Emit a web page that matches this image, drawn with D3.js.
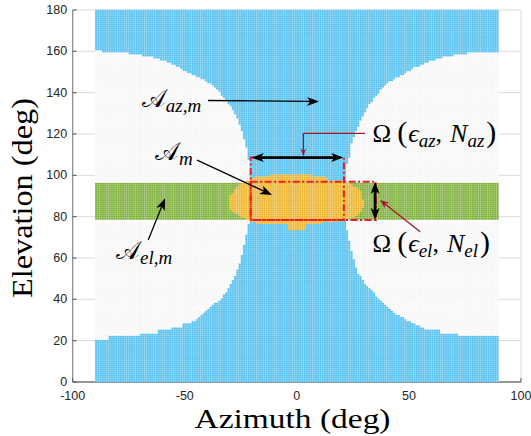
<!DOCTYPE html>
<html><head><meta charset="utf-8">
<script src="https://cdn.jsdelivr.net/npm/d3@7"></script>
<style>
html,body{margin:0;padding:0;background:#fff;}
svg{display:block;}
</style></head><body>
<svg id="chart" width="531" height="436"></svg>
<script>
// ---------------- data ----------------
const azTicks = [-100, -50, 0, 50, 100];
const elTicks = [0, 20, 40, 60, 80, 100, 120, 140, 160, 180];
const gridAz = [-90, 90];          // azimuth extent of the cell grid (1 deg cells)
const gridEl = [0, 180];           // elevation extent
const bandEl = [78.5, 96.5];       // A_el,m band (green)

// white (non-A_az,m) region boundaries, [az, el]
const leftWhiteUpper = [[-90,160.5],[-83,159.5],[-75,159],[-68.5,158],[-63,156.8],[-58,155],[-53,152.5],[-47.7,149.3],[-43,147],[-38.8,144.5],[-35.5,141.5],[-33,138],[-30.5,135],[-28.5,131.6],[-27,128.5],[-25.5,125],[-24.3,121],[-23.3,117],[-22.4,113.5],[-21.8,110.6],[-21.3,105],[-21.3,78]];
const leftWhiteLower = [[-90,20.8],[-83.5,20.8],[-83.5,22.3],[-70,22.3],[-69,23.7],[-62,23.7],[-61.5,25.2],[-56,25.2],[-55.5,26.8],[-51.5,26.8],[-51,28.4],[-47.7,28.5],[-45,30],[-43,31.5],[-40.3,34.8],[-36.5,38],[-33,41.3],[-30.5,45],[-28.5,49.3],[-27,53],[-25.5,57.4],[-24.3,62],[-23.3,67],[-22.5,71],[-21.8,75],[-21.3,78]];
const rightWhiteUpper = [[90,159.5],[80,159.5],[72,158.5],[66.6,157.4],[59.2,155],[51.7,151.7],[44.3,146.9],[40,144],[36.9,140.5],[34,136.5],[31,131.6],[28.5,126.5],[26.5,121],[24.5,115],[23.8,109],[22.5,105],[22.3,97],[22.3,78]];
const rightWhiteLower = [[90,22.3],[72.5,22.3],[72.5,23.9],[63.6,23.9],[63.6,25.5],[57.7,25.5],[54,27.6],[51,29.2],[46.5,31.6],[42.8,34],[39.9,37.3],[36.9,40.5],[33.9,43.7],[31,46.9],[29.4,49.3],[27.5,53],[26,57.4],[24.8,62],[23.8,67],[23,71],[22.3,75],[22.3,78]];

// A_m region (orange)
const orangeOutline = [[-11.5,100.7],[7,100.7],[7,99.8],[11.6,99.8],[14,98],[20,97.2],[24,96],[27,94],[29.4,91.5],[29.6,85],[28,82],[26,80],[22,78.3],[13,77.3],[6,76.2],[4.2,76.2],[4.2,73.6],[-3.5,73.6],[-3.5,76.2],[-14.3,76.2],[-19,77.3],[-21.5,78.3],[-26.2,80.8],[-29,83],[-30,85],[-30,89.6],[-28,92.5],[-25.5,95.3],[-23.3,97],[-18,99.3],[-12,100]];

// red dash-dot boxes: [az0, az1, el0, el1]
const dashedBoxes = [[-20.6, 21.0, 78.4, 108.6], [-20.6, 35.3, 78.4, 96.9]];

// annotation arrows [az1, el1, az2, el2]
const blackDoubleArrows = [[-20.1,108.6,20.7,108.6],[34.9,96.9,34.9,78.4]];
const blackArrows = [[-39.6,136.2,9.9,135.7],[-44.5,107.4,-11.1,90.5],[-66.3,68.7,-58.8,88.9]];
const redElbow = [[30.4,120.3],[2.9,120.3],[2.9,109.2]];
const redArrow = [55.0,72.7,37.1,88.1];

// labels
const labels = [
  {az:-69.2, el:132.9, parts:[{t:'𝒜',s:25},{t:'az,m',s:19,i:true,sub:true}]},
  {az:-63.3, el:107.4, parts:[{t:'𝒜',s:25},{t:'m',s:19,i:true,sub:true}]},
  {az:-80.7, el:59.4,  parts:[{t:'𝒜',s:25},{t:'el,m',s:19,i:true,sub:true}]},
  {az:33.8, el:116.3, parts:[{t:'Ω',s:25},{t:'(',s:30,dx:6},{t:'ϵ',s:26,i:true,dx:1},{t:'az',s:19,i:true,sub:true},{t:',',s:26},{t:'N',s:26,i:true,dx:8},{t:'az',s:19,i:true,sub:true},{t:')',s:30,dx:2}]},
  {az:33.8, el:63.0,  parts:[{t:'Ω',s:25},{t:'(',s:30,dx:6},{t:'ϵ',s:26,i:true,dx:1},{t:'el',s:19,i:true,sub:true},{t:',',s:26},{t:'N',s:26,i:true,dx:8},{t:'el',s:19,i:true,sub:true},{t:')',s:30,dx:2}]}
];
const xLabel = 'Azimuth (deg)';
const yLabel = 'Elevation (deg)';

const colors = {blue:'#4DBEEE', green:'#77AC30', orange:'#EDB120', white:'#FFFFFF'};

// ---------------- drawing ----------------
const svg = d3.select('#chart');
const x = d3.scaleLinear().domain([-100,100]).range([72.7,521]);
const y = d3.scaleLinear().domain([0,180]).range([382,10]);

// grid at ticks
const gGrid = svg.append('g');
gGrid.selectAll('line.gx').data(azTicks).join('line')
  .attr('x1',d=>x(d)).attr('x2',d=>x(d)).attr('y1',y(0)).attr('y2',y(180))
  .attr('stroke','#dcdcdc').attr('stroke-width',1);
gGrid.selectAll('line.gy').data(elTicks).join('line')
  .attr('x1',x(-100)).attr('x2',x(100)).attr('y1',d=>y(d)).attr('y2',d=>y(d))
  .attr('stroke','#dcdcdc').attr('stroke-width',1);

// axes lines + ticks
const gAx = svg.append('g');
gAx.append('line').attr('x1',x(-100)).attr('x2',x(-100)).attr('y1',y(0)).attr('y2',y(180)).attr('stroke','#7a7a7a').attr('stroke-width',1);
gAx.append('line').attr('x1',x(-100)).attr('x2',x(100)).attr('y1',y(0)).attr('y2',y(0)).attr('stroke','#7a7a7a').attr('stroke-width',1.3);
gAx.selectAll('line.ty').data(elTicks).join('line')
  .attr('x1',x(-100)).attr('x2',x(-100)+4).attr('y1',d=>y(d)).attr('y2',d=>y(d)).attr('stroke','#555').attr('stroke-width',1);
gAx.selectAll('line.tx').data(azTicks).join('line')
  .attr('x1',d=>x(d)).attr('x2',d=>x(d)).attr('y1',y(0)).attr('y2',y(0)-4).attr('stroke','#555').attr('stroke-width',1);

// cells
const leftPoly = leftWhiteUpper.concat(leftWhiteLower.slice().reverse());
const rightPoly = rightWhiteUpper.concat(rightWhiteLower.slice().reverse());
function cls(cx, cy){
  if (d3.polygonContains(orangeOutline,[cx,cy])) return 'orange';
  if (cy >= bandEl[0] && cy <= bandEl[1]) return 'green';
  if (d3.polygonContains(leftPoly,[cx,cy]) || d3.polygonContains(rightPoly,[cx,cy])) return 'white';
  return 'blue';
}
const runs = [];
for (let a = gridAz[0]; a < gridAz[1]; a++) {
  let cur = null;
  for (let e = gridEl[0]; e <= gridEl[1]; e++) {
    const c = cls(a+0.5, e);
    const e0 = Math.max(gridEl[0], e-0.5), e1 = Math.min(gridEl[1], e+0.5);
    if (cur && cur.c === c) cur.e1 = e1;
    else { cur = {a0:a, a1:a+1, e0, e1, c}; runs.push(cur); }
  }
}
const gCells = svg.append('g');
gCells.selectAll('rect').data(runs).join('rect')
  .attr('x',d=>x(d.a0)-0.15).attr('width',d=>x(d.a1)-x(d.a0)+0.3)
  .attr('y',d=>y(d.e1)-0.15).attr('height',d=>y(d.e0)-y(d.e1)+0.3)
  .attr('fill',d=>colors[d.c]);

// cell grid lines
const vLines = d3.range(gridAz[0], gridAz[1]+1, 1);
const hLines = d3.range(gridEl[0]+0.5, gridEl[1], 1);
const clip = svg.append('defs').append('clipPath').attr('id','wclip');
clip.selectAll('rect').data(runs.filter(r=>r.c==='white')).join('rect')
  .attr('x',d=>x(d.a0)).attr('width',d=>x(d.a1)-x(d.a0))
  .attr('y',d=>y(d.e1)).attr('height',d=>y(d.e0)-y(d.e1));
function drawCellGrid(g, col, w, op){
  g.selectAll('line.v').data(vLines).join('line').attr('class','v')
    .attr('x1',d=>x(d)).attr('x2',d=>x(d)).attr('y1',y(gridEl[0])).attr('y2',y(gridEl[1]))
    .attr('stroke',col).attr('stroke-width',w).attr('stroke-opacity',op);
  g.selectAll('line.h').data(hLines).join('line').attr('class','h')
    .attr('x1',x(gridAz[0])).attr('x2',x(gridAz[1])).attr('y1',d=>y(d)).attr('y2',d=>y(d))
    .attr('stroke',col).attr('stroke-width',w).attr('stroke-opacity',op);
}
drawCellGrid(svg.append('g'), '#ffffff', 0.55, 0.45);
drawCellGrid(svg.append('g').attr('clip-path','url(#wclip)'), '#ececec', 0.45, 1);

// red dash-dot boxes
svg.append('g').selectAll('rect').data(dashedBoxes).join('rect')
  .attr('x',d=>x(d[0])).attr('width',d=>x(d[1])-x(d[0]))
  .attr('y',d=>y(d[3])).attr('height',d=>y(d[2])-y(d[3]))
  .attr('fill','none').attr('stroke','#ee1c24').attr('stroke-width',2)
  .attr('stroke-dasharray','7,2.5,2,2.5');

// arrows
const gArr = svg.append('g');
function head(x1,y1,x2,y2,L,Wd,back){
  const dx=x2-x1, dy=y2-y1, len=Math.hypot(dx,dy), ux=dx/len, uy=dy/len, nx=-uy, ny=ux;
  const bx=x2-ux*L, by=y2-uy*L;
  const p=[[x2,y2],[bx+nx*Wd/2,by+ny*Wd/2],[x2-ux*(L-back),y2-uy*(L-back)],[bx-nx*Wd/2,by-ny*Wd/2]];
  return {d:'M'+p.map(q=>q.join(',')).join('L')+'Z', ix:p[2][0], iy:p[2][1]};
}
function arrow(px1,py1,px2,py2,col,sw,L,Wd,dbl){
  const h2=head(px1,py1,px2,py2,L,Wd,3);
  let sx=px1, sy=py1;
  if(dbl){ const h1=head(px2,py2,px1,py1,L,Wd,3); sx=h1.ix; sy=h1.iy; gArr.append('path').attr('d',h1.d).attr('fill',col); }
  gArr.append('line').attr('x1',sx).attr('y1',sy).attr('x2',h2.ix).attr('y2',h2.iy).attr('stroke',col).attr('stroke-width',sw);
  gArr.append('path').attr('d',h2.d).attr('fill',col);
}
blackDoubleArrows.forEach(a=>arrow(x(a[0]),y(a[1]),x(a[2]),y(a[3]),'#000',2.8,12,9,true));
blackArrows.forEach(a=>arrow(x(a[0]),y(a[1]),x(a[2]),y(a[3]),'#000',1.3,12,9,false));
const red = '#A2142F';
gArr.append('polyline').attr('points',redElbow.slice(0,2).map(p=>[x(p[0]),y(p[1])].join(',')).join(' '))
  .attr('fill','none').attr('stroke',red).attr('stroke-width',1.3);
arrow(x(redElbow[1][0]),y(redElbow[1][1]),x(redElbow[2][0]),y(redElbow[2][1]),red,1.3,8,6,false);
arrow(x(redArrow[0]),y(redArrow[1]),x(redArrow[2]),y(redArrow[3]),red,1.3,9,7,false);

// math labels
const gLab = svg.append('g');
labels.forEach(l=>{
  const t = gLab.append('text').attr('x',x(l.az)).attr('y',y(l.el)).attr('fill','#000');
  let shift = 0;
  l.parts.forEach(p=>{
    const s = p.sub ? 5 : 0;
    t.append('tspan').attr('dy', s-shift).attr('dx', p.dx||0)
      .attr('font-size', p.s).attr('font-style', p.i?'italic':'normal')
      .attr('font-family', "'Liberation Serif','DejaVu Serif',serif").text(p.t);
    shift = s;
  });
});

// tick labels
const gT = svg.append('g').attr('font-family',"'Liberation Sans',Arial,sans-serif").attr('font-size',12.5).attr('fill','#262626');
gT.selectAll('text.x').data(azTicks).join('text').attr('x',d=>x(d)).attr('y',400).attr('text-anchor','middle').text(d=>d);
gT.selectAll('text.y').data(elTicks).join('text').attr('x',x(-100)-5.5).attr('y',d=>y(d)+4).attr('text-anchor','end').text(d=>d);

// axis titles
svg.append('text').attr('x',292.5).attr('y',428).attr('text-anchor','middle')
  .attr('font-family',"'Liberation Serif',serif").attr('font-size',28)
  .attr('textLength',196).attr('lengthAdjust','spacingAndGlyphs').attr('fill','#000').text(xLabel);
svg.append('text').attr('transform',`translate(32,${(y(0)+y(180))/2+2}) rotate(-90)`).attr('text-anchor','middle')
  .attr('font-family',"'Liberation Serif',serif").attr('font-size',29)
  .attr('textLength',200).attr('lengthAdjust','spacingAndGlyphs').attr('fill','#000').text(yLabel);
</script>
</body></html>
